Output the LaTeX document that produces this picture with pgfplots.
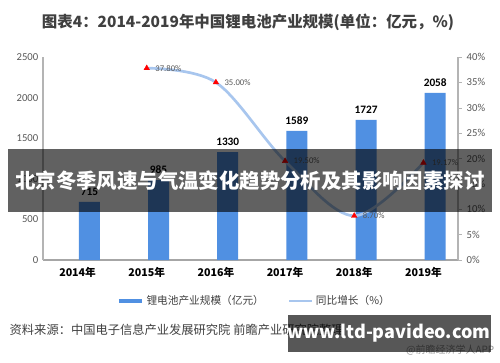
\documentclass[border=0pt]{standalone}
\usepackage{pgfplots}
\pgfplotsset{compat=1.18}
\usepackage{fontspec}
\setmainfont{Noto Sans CJK SC}
\newfontfamily\numfont{Carlito}
\definecolor{barblue}{RGB}{80,144,226}
\definecolor{lineblue}{RGB}{168,198,238}
\definecolor{tickgray}{RGB}{89,89,89}
\definecolor{axgray}{RGB}{180,180,180}
\definecolor{titlegray}{RGB}{64,64,64}
\begin{document}
\begin{tikzpicture}[x=0.75pt,y=0.75pt]
\path[use as bounding box, fill=white] (0,0) rectangle (500,362);
% title
\node[font=\bfseries\fontsize{11.6}{13}\selectfont, text=titlegray] at (248,340) {图表4：2014-2019年中国锂电池产业规模(单位：亿元，\%)};
\begin{axis}[
  at={(32.25pt,76.5pt)}, anchor=south west,
  scale only axis, width=311.25pt, height=152.25pt,
  xmin=-0.5, xmax=5.5, ymin=0, ymax=2500,
  axis y line*=left, axis x line*=bottom,
  axis line style={axgray, line width=0.8pt},
  x axis line style={line width=1.5pt, color={rgb,255:red,166;green,166;blue,166}, -},
  y axis line style={-},
  xtick={0,1,2,3,4,5},
  xticklabels={2014年,2015年,2016年,2017年,2018年,2019年},
  xticklabel style={font=\bfseries\fontsize{8}{9}\selectfont, text=black, yshift=-2pt},
  ytick={0,500,1000,1500,2000,2500},
  yticklabel style={font=\numfont\fontsize{8}{9}\selectfont, text=tickgray},
  /pgf/number format/assume math mode=true,
  /pgf/number format/1000 sep={},
  major tick length=0pt,
  ybar, bar width=15.75pt,
  nodes near coords,
  nodes near coords style={font=\numfont\bfseries\fontsize{8.5}{9}\selectfont, text=black, yshift=1pt},
  legend style={at={(0.51,-0.202)}, anchor=center, draw=none, fill=none,
    legend columns=2, font=\fontsize{8}{9}\selectfont, text=titlegray,
    /tikz/every even column/.append style={column sep=16pt}},
  legend image code/.code={\draw[#1] (0cm,0cm) -- (0.6cm,0cm);},
]
\addplot[fill=barblue, draw=none, forget plot] coordinates {(0,715) (1,985) (2,1330) (3,1589) (4,1727) (5,2058)};
\addlegendimage{barblue, line width=3.2pt}
\addlegendentry{锂电池产业规模（亿元）}
\addlegendimage{lineblue, line width=2pt, mark=triangle*, mark options={red, draw=red, scale=0.7, line width=0.3pt}}
\addlegendentry{同比增长（\%）}
\end{axis}
\begin{axis}[
  at={(32.25pt,76.5pt)}, anchor=south west,
  scale only axis, width=311.25pt, height=152.25pt,
  xmin=-0.5, xmax=5.5, ymin=0, ymax=40,
  axis y line*=right, axis x line=none,
  axis line style={axgray, line width=0.8pt, -},
  ytick={0,5,10,15,20,25,30,35,40},
  yticklabel={\pgfmathprintnumber{\tick}\%},
  yticklabel style={font=\numfont\fontsize{8}{9}\selectfont, text=tickgray},
  /pgf/number format/assume math mode=true,
  ytick align=outside, major tick length=3pt,
  tick style={axgray},
]
\addplot[lineblue, line width=2pt, smooth, tension=0.55,
  mark=triangle*, mark options={red, draw=red, scale=1.2, line width=0.3pt},
  nodes near coords={\pgfmathprintnumber[fixed,fixed zerofill,precision=2]{\pgfplotspointmeta}\%},
  nodes near coords style={font=\numfont\fontsize{6.5}{7}\selectfont, text=tickgray, anchor=west, xshift=3pt, yshift=0pt}]
  coordinates {(1,37.80) (2,35.00) (3,19.50) (4,8.70) (5,19.17)};
\end{axis}
% overlay banner
\fill[black, opacity=0.62] (8,150) rectangle (492,213);
\node[font=\bfseries\fontsize{15.3}{17}\selectfont, text=white] at (250,181) {北京冬季风速与气温变化趋势分析及其影响因素探讨};
% source
\node[anchor=west, font=\fontsize{9.2}{11}\selectfont, text=titlegray] at (5,32) {资料来源：中国电子信息产业发展研究院 前瞻产业研究院整理};
\node[anchor=east, font=\fontsize{7.5}{9}\selectfont, text={rgb,255:red,150;green,150;blue,150}] at (499,12) {@前瞻经济学人APP};
\fill[black, opacity=0.66] (288,10) rectangle (491,47);
\node[font=\bfseries\fontsize{13.5}{16}\selectfont, text=white] at (389,29) {www.ltd-pavideo.com};
\end{tikzpicture}
\end{document}
